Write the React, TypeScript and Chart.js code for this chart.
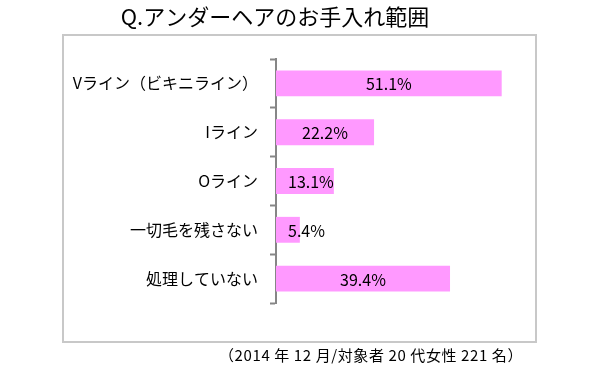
import React, { useEffect, useRef } from "react";
import { Chart, registerables } from "chart.js";

Chart.register(...registerables);

const categories = ["Vライン（ビキニライン）", "Iライン", "Oライン", "一切毛を残さない", "処理していない"];
const values = [51.1, 22.2, 13.1, 5.4, 39.4];
const titleText = "Q.アンダーヘアのお手入れ範囲";
const noteText = "（2014 年 12 月/対象者 20 代女性 221 名）";

const FONT = "'Noto Sans CJK JP', 'Noto Sans', sans-serif";

export default function App() {
  const ref = useRef<HTMLCanvasElement>(null);
  useEffect(() => {
    document.body.style.margin = "0";
    const canvas = ref.current!;
    const decor = {
      id: "decor",
      beforeDraw(chart: any) {
        const ctx = chart.ctx;
        ctx.save();
        ctx.fillStyle = "#ffffff";
        ctx.fillRect(0, 0, chart.width, chart.height);
        ctx.strokeStyle = "#c8c8c8";
        ctx.lineWidth = 2;
        ctx.strokeRect(63, 35, 473, 307);
        ctx.fillStyle = "#000000";
        ctx.font = `22px ${FONT}`;
        ctx.textAlign = "center";
        ctx.textBaseline = "middle";
        ctx.fillText(titleText, 275, 17);
        ctx.font = `15px ${FONT}`;
        try {
          (ctx as any).letterSpacing = "0.6px";
        } catch (e) {}
        ctx.textAlign = "left";
        const w = ctx.measureText(noteText).width;
        ctx.fillText(noteText, Math.min(232, 523 - w), 355);
        ctx.restore();
      },
      afterDatasetsDraw(chart: any) {
        const ctx = chart.ctx;
        const meta = chart.getDatasetMeta(0);
        ctx.save();
        ctx.font = `16px ${FONT}`;
        ctx.fillStyle = "#000000";
        ctx.textAlign = "center";
        ctx.textBaseline = "middle";
        meta.data.forEach((bar: any, i: number) => {
          const label = values[i].toFixed(1) + "%";
          const w = ctx.measureText(label).width;
          const center = (bar.x + bar.base) / 2;
          const cx = Math.max(center, bar.base + 12 + w / 2);
          ctx.fillText(label, cx, bar.y + 1);
        });
        ctx.restore();
      },
    };
    const chart = new Chart(canvas, {
      type: "bar",
      data: {
        labels: categories,
        datasets: [
          {
            data: values,
            backgroundColor: "#ff99ff",
            borderWidth: 0,
            categoryPercentage: 1,
            barPercentage: 0.53,
          },
        ],
      },
      options: {
        indexAxis: "y",
        animation: false,
        responsive: false,
        layout: { padding: { top: 59, bottom: 72, left: 0, right: 59 } },
        plugins: {
          legend: { display: false },
          title: { display: false },
          tooltip: { enabled: false },
        },
        scales: {
          x: {
            display: false,
            min: 0,
            max: 60,
          },
          y: {
            afterFit: (s: any) => {
              s.width = 276;
            },
            grid: {
              offset: true,
              drawOnChartArea: false,
              drawTicks: true,
              tickLength: 6,
              tickColor: "#868686",
              tickWidth: 2,
            },
            border: { display: true, color: "#868686", width: 2 },
            ticks: {
              color: "#000000",
              font: { family: FONT, size: 16 },
              padding: 12,
            },
          },
        },
      },
      plugins: [decor],
    });
    return () => chart.destroy();
  }, []);
  return <canvas ref={ref} width={600} height={375} style={{ display: "block" }} />;
}
